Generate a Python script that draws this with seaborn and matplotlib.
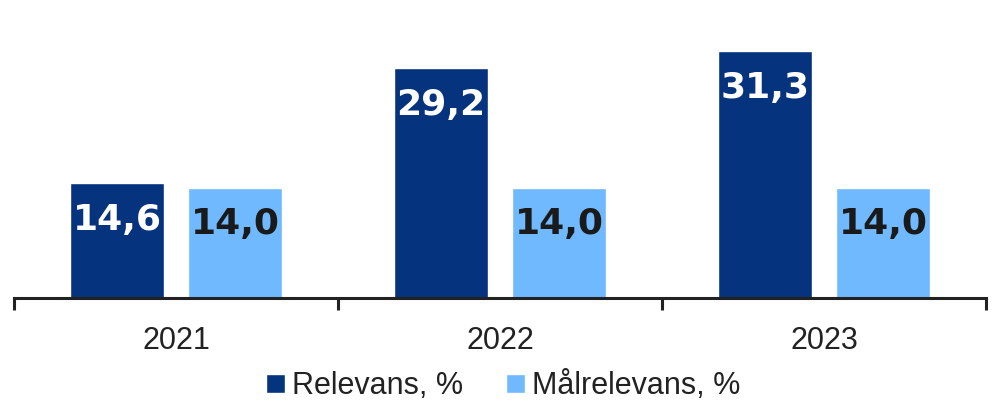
import pandas as pd
import seaborn as sns
import matplotlib.pyplot as plt

# data
years = ["2021", "2022", "2023"]
relevans = [14.6, 29.2, 31.3]
maalrelevans = [14.0, 14.0, 14.0]
series_names = ["Relevans, %", "Målrelevans, %"]
colors = ["#06337E", "#70B9FF"]
label_colors = ["white", "#1A1A1A"]

df = pd.DataFrame({
    "year": years * 2,
    "value": relevans + maalrelevans,
    "series": [series_names[0]] * 3 + [series_names[1]] * 3,
})

sns.set_style("white")
plt.rcParams["font.family"] = ["Liberation Sans", "DejaVu Sans"]

fig = plt.figure(figsize=(10.01, 4.16), dpi=100)
ax = fig.add_axes([14 / 1001, 118 / 416, 972 / 1001, 276 / 416])

sns.barplot(data=df, x="year", y="value", hue="series", palette=colors,
            saturation=1, width=0.728, gap=0.21, ax=ax, legend=True)

# value labels inside the top of each bar
for cont, lc in zip(ax.containers, label_colors):
    for bar in cont:
        h = bar.get_height()
        ax.annotate(f"{h:.1f}".replace(".", ","),
                    (bar.get_x() + bar.get_width() / 2, h),
                    xytext=(0, -26.5), textcoords="offset points",
                    ha="center", va="center", fontsize=26,
                    fontweight="bold", color=lc, family="DejaVu Sans")

ax.set_xlim(-0.5, 2.5)
ax.set_ylim(0, 35)
ax.set_xlabel("")
ax.set_ylabel("")
ax.set_yticks([])
for side in ["top", "left", "right"]:
    ax.spines[side].set_visible(False)
ax.spines["bottom"].set_linewidth(2.2)
ax.spines["bottom"].set_color("#222222")

ax.set_xticks([-0.5, 0.5, 1.5, 2.5], minor=True)
ax.tick_params(axis="x", which="major", bottom=True, length=0, pad=20,
               labelsize=22, labelcolor="#222222")
ax.tick_params(axis="x", which="minor", bottom=True, length=8.6, width=2.2,
               color="#222222", direction="out")

ax.legend(loc="center", bbox_to_anchor=(0.503, 0.072),
          bbox_transform=fig.transFigure, ncol=2, frameon=False,
          fontsize=22, handlelength=0.6, handleheight=0.6,
          handletextpad=0.25, columnspacing=1.4, labelcolor="#222222")

fig.savefig("out.png", dpi=100)
